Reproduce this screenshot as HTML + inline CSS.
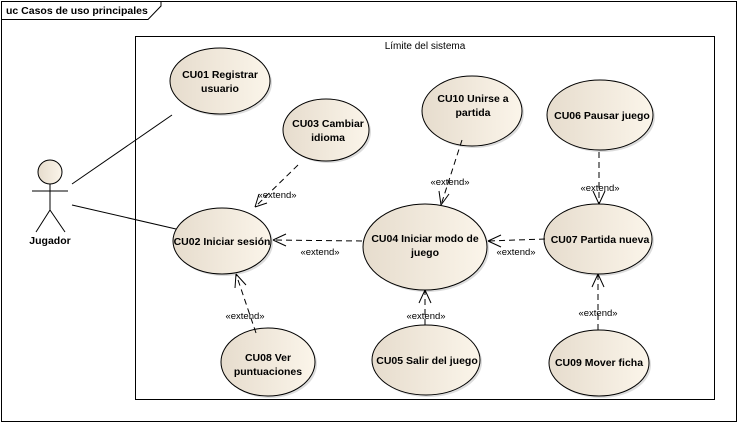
<!DOCTYPE html>
<html><head><meta charset="utf-8"><style>
html,body{margin:0;padding:0;background:#fff;}
svg{display:block;font-family:"Liberation Sans",Arial,sans-serif;}
.t{font-size:10.5px;font-weight:bold;fill:#000;text-anchor:middle;}
.x{font-size:9.5px;fill:#000;text-anchor:middle;}
.d{stroke:#000;stroke-width:1;stroke-dasharray:6,4;fill:none;}
.a{stroke:#000;stroke-width:1;fill:none;}
</style></head><body>
<svg width="739" height="424" viewBox="0 0 739 424">
<defs>
<linearGradient id="g" x1="0" y1="0" x2="1" y2="0">
<stop offset="0" stop-color="#e6dccd"/><stop offset="1" stop-color="#fbf5ea"/>
</linearGradient>
</defs>
<rect x="1.5" y="1.5" width="735" height="420" fill="#fff" stroke="#000"/>
<path d="M1.5 19.5 H148 L161 6 V1.5" fill="none" stroke="#000"/>
<text x="6" y="14" style="font-size:10.5px;font-weight:bold">uc Casos de uso principales</text>
<rect x="135.5" y="36.5" width="579" height="363" fill="none" stroke="#000"/>
<text x="425" y="49" style="font-size:10px" text-anchor="middle">Límite del sistema</text>
<circle cx="50" cy="172" r="12" fill="url(#g)" stroke="#000"/>
<path d="M50 184 V210 M32 191 H68 M50 210 L36 232 M50 210 L65 232" class="a"/>
<text x="50" y="244" class="t">Jugador</text>
<line x1="72" y1="184" x2="172" y2="115" class="a"/>
<line x1="72" y1="205" x2="176" y2="229" class="a"/>
<g stroke="#000" fill="url(#g)">
<g transform="translate(2,2)" fill="#bbb" stroke="none" opacity="0.5">
<ellipse cx="220" cy="81" rx="50" ry="33"/><ellipse cx="326" cy="130" rx="43" ry="31"/>
<ellipse cx="472" cy="111" rx="50" ry="35"/><ellipse cx="600" cy="115" rx="53" ry="35"/>
<ellipse cx="222" cy="241" rx="49" ry="33"/><ellipse cx="425" cy="247" rx="62" ry="43"/>
<ellipse cx="598" cy="239" rx="54" ry="35"/><ellipse cx="268" cy="362" rx="47" ry="34"/>
<ellipse cx="426" cy="360" rx="54" ry="35"/><ellipse cx="599" cy="363" rx="50" ry="33"/>
</g>
<ellipse cx="220" cy="81" rx="50" ry="33"/><ellipse cx="326" cy="130" rx="43" ry="31"/>
<ellipse cx="472" cy="111" rx="50" ry="35"/><ellipse cx="600" cy="115" rx="53" ry="35"/>
<ellipse cx="222" cy="241" rx="49" ry="33"/><ellipse cx="425" cy="247" rx="62" ry="43"/>
<ellipse cx="598" cy="239" rx="54" ry="35"/><ellipse cx="268" cy="362" rx="47" ry="34"/>
<ellipse cx="426" cy="360" rx="54" ry="35"/><ellipse cx="599" cy="363" rx="50" ry="33"/>
</g>
<text class="t"><tspan x="220" y="78">CU01 Registrar</tspan><tspan x="220" y="92">usuario</tspan></text>
<text class="t"><tspan x="328" y="127">CU03 Cambiar</tspan><tspan x="328" y="141">idioma</tspan></text>
<text class="t"><tspan x="473" y="102">CU10 Unirse a</tspan><tspan x="473" y="116">partida</tspan></text>
<text class="t" x="602" y="119">CU06 Pausar juego</text>
<text class="t" x="222" y="245">CU02 Iniciar sesión</text>
<text class="t"><tspan x="425" y="242">CU04 Iniciar modo de</tspan><tspan x="425" y="256">juego</tspan></text>
<text class="t" x="600" y="243">CU07 Partida nueva</text>
<text class="t"><tspan x="268" y="361">CU08 Ver</tspan><tspan x="268" y="375">puntuaciones</tspan></text>
<text class="t" x="427" y="364">CU05 Salir del juego</text>
<text class="t" x="599" y="366">CU09 Mover ficha</text>
<path class="d" d="M298 165 L255 207"/><path class="a" d="M255 207 L259 194 M255 207 L267 203"/>
<text class="x" x="277" y="198">«extend»</text>
<path class="d" d="M362 241 L273 240"/><path class="a" d="M273 240 L286 234 M273 240 L286 246"/>
<text class="x" x="320" y="255">«extend»</text>
<path class="d" d="M462 140 L441 205"/><path class="a" d="M441 205 L439 191 M441 205 L449 194"/>
<text class="x" x="450" y="185">«extend»</text>
<path class="d" d="M545 239 L488 241"/><path class="a" d="M488 241 L501 235 M488 241 L501 247"/>
<text class="x" x="516" y="255">«extend»</text>
<path class="d" d="M599 152 L599 204"/><path class="a" d="M599 204 L593 191 M599 204 L605 191"/>
<text class="x" x="600" y="191">«extend»</text>
<path class="d" d="M256 333 L236 274"/><path class="a" d="M236 274 L235 288 M236 274 L246 285"/>
<text class="x" x="245" y="319">«extend»</text>
<path class="d" d="M425 325 L425 290"/><path class="a" d="M425 290 L419 303 M425 290 L431 303"/>
<text class="x" x="426" y="319">«extend»</text>
<path class="d" d="M598 330 L598 274"/><path class="a" d="M598 274 L592 287 M598 274 L604 287"/>
<text class="x" x="598" y="316">«extend»</text>
</svg>
</body></html>
